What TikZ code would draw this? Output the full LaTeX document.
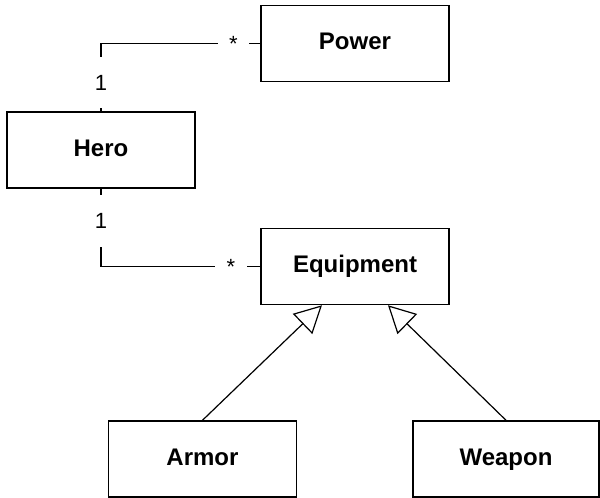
\documentclass[tikz,border=0pt]{standalone}
\usepackage{fontspec}
\setmainfont{Liberation Sans}
\usetikzlibrary{arrows.meta}
\begin{document}
\begin{tikzpicture}[x=1pt, y=-1pt, >={Triangle[open, length=27pt, width=28pt]},
  cls/.style={draw, line width=1.5pt, minimum width=188pt, minimum height=76pt, text height=17pt, text depth=5pt, font=\fontsize{24}{28}\selectfont\bfseries},
  mult/.style={fill=white, inner sep=0pt, font=\fontsize{22}{26}\selectfont}]
\useasboundingbox (0,0) rectangle (600,498);
\node[cls] (power) at (355,43.5) {Power};
\node[cls] (hero) at (101,150) {Hero};
\node[cls] (equip) at (355,266.5) {Equipment};
\node[cls] (armor) at (202.5,459) {Armor};
\node[cls, minimum width=186pt] (weapon) at (506,459) {Weapon};
\draw[line width=1.2pt] (hero.north) |- (power.west);
\draw[line width=1.2pt] (hero.south) |- (equip.west);
\draw[->, line width=1.2pt] (armor.north) -- ([xshift=-33pt]equip.south);
\draw[->, line width=1.2pt] (weapon.north) -- ([xshift=33pt]equip.south);
% multiplicities
\node[mult, minimum height=51pt] (hpone) at (101,82.5) {1};
\node[mult, minimum width=31pt] (hpmany) at (233.5,44) {*};
\node[mult, minimum height=52pt] (heone) at (101,221) {1};
\node[mult, minimum width=32pt] (hemany) at (231,267) {*};
\end{tikzpicture}
\end{document}
